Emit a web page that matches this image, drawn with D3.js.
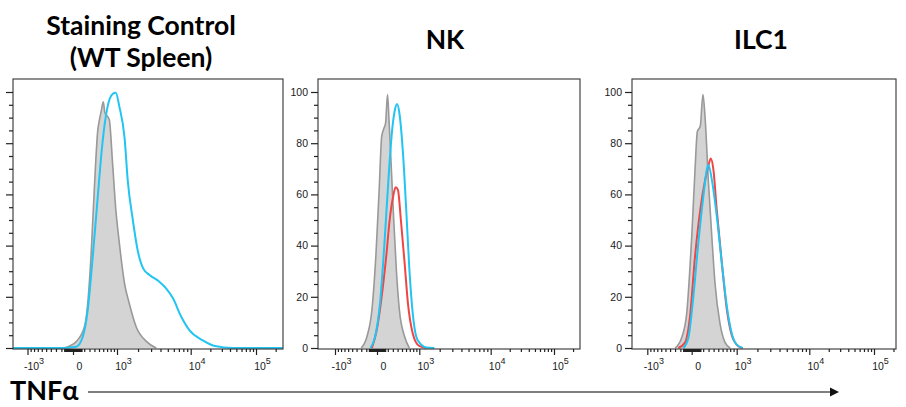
<!DOCTYPE html>
<html>
<head>
<meta charset="utf-8">
<script src="https://cdn.jsdelivr.net/npm/d3@7"></script>
<style>
  body { margin: 0; background: #fff; }
  svg { display: block; }
</style>
</head>
<body>
<div id="vis"></div>
<script>
var width = 906;
var height = 407;

// panel titles
var titles = [["Staining Control", "(WT Spleen)"], ["NK"], ["ILC1"]];

// x axis (TNFa intensity, biexponential display)
var xTicks = [-1000, 0, 1000, 1e4, 1e5];
var xTickBase = ["-10", "0", "10", "10", "10"];
var xTickExp = ["3", "", "3", "4", "5"];
var yTicks = [0, 20, 40, 60, 80, 100];

// histograms: [intensity, % of max]
var ctrlGray = [[-150, 0], [56, 2.5], [204, 8.3], [266, 17.4], [333, 37], [400, 63], [472, 85], [509, 89],
    [549, 92.3], [602, 96.2], [640, 92], [672, 91.2], [761, 89.2], [858, 72], [961, 54], [1085, 41],
    [1297, 25], [1511, 17.4], [1883, 8.3], [2608, 2.5], [3516, 0]];
var ctrlBlue = [[-3000, 0], [-200, 0], [56, 0.5], [173, 4.4], [266, 14.8], [365, 35.7], [472, 59], [549, 74.7],
    [628, 86.4], [714, 94.3], [858, 99.2], [961, 99.7], [1085, 94.3], [1297, 81.9], [1436, 65.6],
    [1694, 50], [1972, 38.3], [2346, 31.1], [2862, 28.5], [3863, 25.9], [4740, 23.3], [5847, 19.4],
    [7513, 12.2], [9600, 7], [15090, 3.1], [23470, 0.8], [44500, 0], [400000, 0]];

var nkGray = [[-300, 0], [-188, 4.4], [-94, 14.8], [-18, 37], [42, 63], [85, 82.5], [127, 85.8], [158, 87.8],
    [195, 99], [224, 89], [271, 69.5], [318, 50], [373, 30.5], [440, 14.8], [565, 4.4], [690, 0]];
var nkBlue = [[-120, 0], [-35, 4.4], [55, 17.4], [145, 43.5], [224, 69.5], [292, 86.4], [342, 93], [388, 95.3],
    [440, 91.7], [524, 76], [605, 54], [690, 30.5], [786, 13.5], [940, 3.1], [1280, 0.2], [1680, 0]];
var nkRed = [[-94, 0], [-5, 7], [85, 20], [176, 37], [236, 50], [304, 59], [358, 62.8], [408, 61.7], [474, 50],
    [565, 33], [650, 17.4], [786, 5.7], [995, 0.8], [1280, 0]];

var ilcGray = [[-298, 0], [-177, 4], [-88, 13.3], [0, 43.4], [57, 69.6], [97, 84.6], [148, 86.6], [196, 99],
    [237, 89.3], [295, 65.7], [364, 43.4], [430, 25.1], [540, 9.4], [660, 2.2], [800, 0]];
var ilcRed = [[-238, 0], [-115, 2.2], [-30, 12.3], [57, 35.8], [148, 54], [237, 65.7], [295, 71], [342, 74],
    [396, 69.6], [466, 54], [583, 33], [710, 14.7], [850, 4.8], [1060, 0.7], [1230, 0]];
var ilcBlue = [[-145, 0], [-58, 4], [28, 20], [115, 41.2], [204, 59.4], [267, 69.6], [295, 71.6], [364, 65.7],
    [466, 51.6], [583, 33], [710, 16], [850, 5.5], [1000, 1.3], [1230, 0]];

var fills = [ctrlGray, nkGray, ilcGray];
var lines = [[ctrlBlue], [nkRed, nkBlue], [ilcRed, ilcBlue]];

var grayFill = "#d4d4d4", grayLine = "#999999";
var blue = "#22c4f2", red = "#f04545";

// frame positions and where the major x ticks sit in each panel
var panels = [
    { x0: 13, x1: 283, tx: [27.5, 73, 117, 190.7, 256], labels: false },
    { x0: 318, x1: 580, tx: [335, 377, 419.3, 490.7, 554], labels: true },
    { x0: 632, x1: 896, tx: [647.3, 691.7, 736.7, 809.3, 874], labels: true }
];
var plotTop = 79, plotBottom = 349;

var svg = d3.select("#vis")
    .append("svg")
    .attr("width", width)
    .attr("height", height);

var bix = function (v) { return Math.asinh(v / 600); };

var minorX = d3.range(-900, 1000, 100).filter(function (d) { return d !== 0; })
    .concat(d3.range(-150, 160, 10).filter(function (d) { return d !== 0; }))
    .concat(d3.range(2, 10).map(function (d) { return d * 1e3; }))
    .concat(d3.range(2, 10).map(function (d) { return d * 1e4; }))
    .concat([2e5]);

var yscale = d3.scaleLinear().domain([0, 100]).range([348, 92]);

panels.forEach(function (p, i) {
    var xs = d3.scaleLinear().domain(xTicks.map(bix)).range(p.tx);
    var xv = function (v) { return xs(bix(v)); };
    var g = svg.append("g");

    g.append("clipPath").attr("id", "clip" + i)
        .append("rect")
        .attr("x", p.x0).attr("y", plotTop)
        .attr("width", p.x1 - p.x0).attr("height", plotBottom - plotTop);

    var area = d3.area()
        .x(function (d) { return xv(d[0]); })
        .y0(yscale(0))
        .y1(function (d) { return yscale(d[1]); })
        .curve(d3.curveMonotoneX);
    var line = d3.line()
        .x(function (d) { return xv(d[0]); })
        .y(function (d) { return yscale(d[1]); })
        .curve(d3.curveMonotoneX);

    var plot = g.append("g").attr("clip-path", "url(#clip" + i + ")");
    plot.append("path")
        .attr("d", area(fills[i]))
        .attr("fill", grayFill);
    plot.append("path")
        .attr("d", line(fills[i]))
        .attr("fill", "none")
        .attr("stroke", grayLine)
        .attr("stroke-width", 1.6);
    lines[i].forEach(function (s, j) {
        var col = lines[i].length === 2 && j === 0 ? red : blue;
        plot.append("path")
            .attr("d", line(s))
            .attr("fill", "none")
            .attr("stroke", col)
            .attr("stroke-width", 2);
    });

    // frame
    g.append("rect")
        .attr("x", p.x0).attr("y", plotTop)
        .attr("width", p.x1 - p.x0).attr("height", plotBottom - plotTop)
        .attr("fill", "none")
        .attr("stroke", "#444")
        .attr("stroke-width", 1.2);

    // y axis
    var yaxis = d3.axisLeft(yscale).tickValues(yTicks).tickSize(7).tickPadding(3)
        .tickFormat(p.labels ? d3.format("d") : "");
    var ya = g.append("g").attr("transform", "translate(" + p.x0 + ",0)").call(yaxis);
    var ym = g.append("g").attr("transform", "translate(" + p.x0 + ",0)")
        .call(d3.axisLeft(yscale).tickValues(d3.range(5, 100, 5).filter(function (d) { return d % 20; }))
            .tickSize(4).tickFormat(""));

    // x axis
    var xa = g.append("g").attr("transform", "translate(0," + plotBottom + ")")
        .call(d3.axisBottom(xs).tickValues(xTicks.map(bix)).tickSize(6).tickPadding(8).tickFormat(""));
    var xm = g.append("g").attr("transform", "translate(0," + plotBottom + ")")
        .call(d3.axisBottom(xs)
            .tickValues(minorX.map(bix).filter(function (d) { var x = xs(d); return x > p.x0 + 1 && x < p.x1 - 1; }))
            .tickSize(3).tickFormat(""));

    [ya, ym, xa, xm].forEach(function (a) {
        a.select(".domain").remove();
        a.selectAll(".tick line").attr("stroke", "#222").attr("stroke-width", 1.2);
        a.selectAll("text").attr("font-family", "Liberation Sans, Arial, sans-serif")
            .attr("font-size", 10.5).attr("fill", "#1a1a1a");
    });

    xa.selectAll(".tick text").each(function (d, k) {
        var t = d3.select(this).attr("x", 6).attr("dy", "0.71em");
        t.append("tspan").text(xTickBase[k]);
        if (xTickExp[k]) {
            t.append("tspan").attr("dy", -6).attr("font-size", 9).text(xTickExp[k]);
        }
    });
});

// titles
var titleX = [141, 445, 761];
titles.forEach(function (lns, i) {
    lns.forEach(function (s, k) {
        svg.append("text")
            .attr("x", titleX[i])
            .attr("y", lns.length === 2 ? 35 + k * 31.5 : 49)
            .attr("text-anchor", "middle")
            .attr("font-family", "Lato, sans-serif")
            .attr("font-weight", 700)
            .attr("font-size", 26.5)
            .attr("fill", "#000")
            .text(s);
    });
});

// x label with arrow
svg.append("text")
    .attr("x", 10).attr("y", 400)
    .attr("font-family", "Lato, sans-serif")
    .attr("font-weight", 700)
    .attr("font-size", 27)
    .text("TNFα");

svg.append("line")
    .attr("x1", 88).attr("x2", 832)
    .attr("y1", 392).attr("y2", 392)
    .attr("stroke", "#555")
    .attr("stroke-width", 1.5);
svg.append("path")
    .attr("d", "M830,387.5L839,392L830,396.5Z")
    .attr("fill", "#111");
</script>
</body>
</html>
